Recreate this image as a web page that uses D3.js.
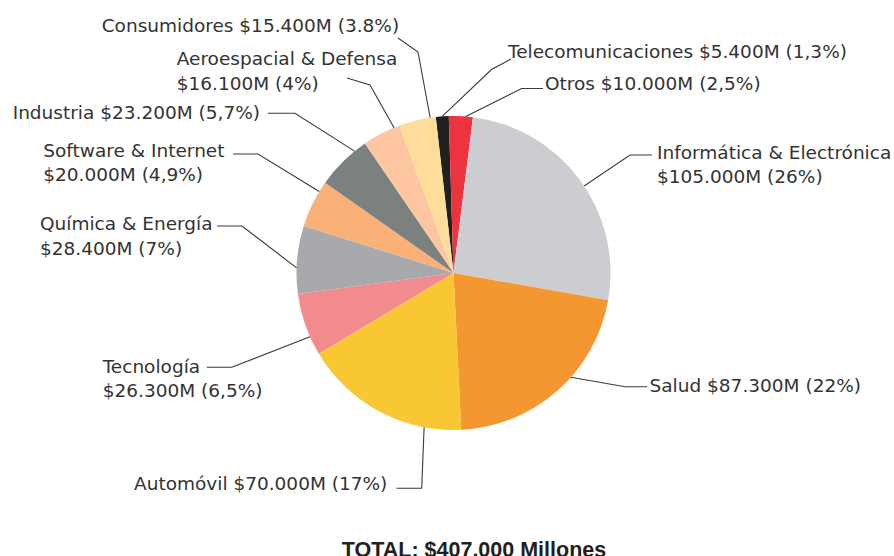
<!DOCTYPE html>
<html>
<head>
<meta charset="utf-8">
<script src="https://cdn.jsdelivr.net/npm/d3@7/dist/d3.min.js"></script>
<style>
  html, body { margin: 0; padding: 0; background: #fff; }
  svg { display: block; }
</style>
</head>
<body>
<svg id="chart" width="894" height="556"></svg>
<script>
// Market size by sector, in millions of dollars
const categories = [
  "Telecomunicaciones", "Otros", "Informática & Electrónica", "Salud",
  "Automóvil", "Tecnología", "Química & Energía", "Software & Internet",
  "Industria", "Aeroespacial & Defensa", "Consumidores"
];
const values = [5400, 10000, 105000, 87300, 70000, 26300, 28400, 20000, 23200, 16100, 15400];
const shareLabels = ["1,3%", "2,5%", "26%", "22%", "17%", "6,5%", "7%", "4,9%", "5,7%", "4%", "3.8%"];
const colors = [
  "#231f20", "#ee3340", "#cbcdd1", "#f59731", "#f8c733", "#f28b8d",
  "#a7a9ac", "#f9b177", "#7a817f", "#fdc6a0", "#fedd9b"
];
const totalLabel = "TOTAL: $407.000 Millones";

// Label placement: text anchor, whether the name sits on its own line,
// the two points of the leader line next to the text, and where along
// the slice's arc the leader meets the pie.
const labelLayout = [
  { x: 508,   y: 58,    split: false, lead: [[511, 59], [491.5, 69.5]],   at: 0.5 },
  { x: 545,   y: 90,    split: false, lead: [[543, 88.5], [521.5, 88.5]], at: 0.7 },
  { x: 657,   y: 158.5, split: true,  lead: [[652, 155], [630, 155]],     at: 0.53 },
  { x: 649.5, y: 392,   split: false, lead: [[647, 386.7], [625, 386.7]], at: 0.41 },
  { x: 134,   y: 490,   split: false, lead: [[396.5, 488.3], [421.7, 488.3]], at: 0.22 },
  { x: 102.7, y: 372.7, split: true,  lead: [[206.7, 367.3], [231.7, 367.3]], at: 0.3 },
  { x: 40,    y: 230,   split: true,  lead: [[217, 226], [242, 226]],     at: 0.38 },
  { x: 43.3,  y: 156.7, split: true,  lead: [[233, 154], [258, 154]],     at: 0.78 },
  { x: 12.7,  y: 119,   split: false, lead: [[268, 113.3], [295, 113.3]], at: 0.77 },
  { x: 176.7, y: 65,    split: true,  lead: [[347, 78], [370, 85]],       at: 0.85 },
  { x: 101.7, y: 31.5,  split: false, lead: [[398, 38], [418, 52]],       at: 0.85 }
];

const cx = 453.5, cy = 273, radius = 157;
const lineGap = 24.5;

const svg = d3.select("#chart");

const locale = d3.formatLocale({ decimal: ",", thousands: ".", grouping: [3], currency: ["$", ""] });
const fmt = locale.format(",d");
const money = v => "$" + fmt(v) + "M";

const start = -6.5 * Math.PI / 180;
const pie = d3.pie().sort(null).value(d => d.value)
  .startAngle(start).endAngle(start + 2 * Math.PI);
const arc = d3.arc().innerRadius(0).outerRadius(radius);

const data = categories.map((c, i) => ({
  name: c, value: values[i], share: shareLabels[i], color: colors[i], layout: labelLayout[i]
}));
const arcs = pie(data);

const g = svg.append("g").attr("transform", `translate(${cx},${cy})`);
g.selectAll("path.slice")
  .data(arcs)
  .join("path")
  .attr("class", "slice")
  .attr("d", arc)
  .attr("fill", d => d.data.color);

// Leader lines from each label to its slice
const line = d3.line();
svg.append("g").selectAll("path.leader")
  .data(arcs)
  .join("path")
  .attr("class", "leader")
  .attr("fill", "none")
  .attr("stroke", "#3a3a3a")
  .attr("stroke-width", 1.1)
  .attr("d", d => {
    const L = d.data.layout;
    const a = d.startAngle + L.at * (d.endAngle - d.startAngle);
    const edge = [cx + radius * Math.sin(a), cy - radius * Math.cos(a)];
    return line([L.lead[0], L.lead[1], edge]);
  });

// Labels
const labels = svg.append("g")
  .attr("font-family", "'DejaVu Sans', Verdana, sans-serif")
  .attr("font-size", "18.5px")
  .attr("fill", "#333");

arcs.forEach(d => {
  const L = d.data.layout;
  const tail = money(d.data.value) + " (" + d.data.share + ")";
  const rows = L.split ? [d.data.name, tail] : [d.data.name + " " + tail];
  const t = labels.append("text").attr("x", L.x).attr("y", L.y);
  rows.forEach((r, k) => {
    t.append("tspan").attr("x", L.x).attr("y", L.y + k * lineGap).text(r);
  });
});

svg.append("text")
  .attr("x", 474)
  .attr("y", 557)
  .attr("text-anchor", "middle")
  .attr("font-family", "'Liberation Sans', Arial, sans-serif")
  .attr("font-weight", "bold")
  .attr("font-size", "21.5px")
  .attr("fill", "#231f20")
  .text(totalLabel);
</script>
</body>
</html>
